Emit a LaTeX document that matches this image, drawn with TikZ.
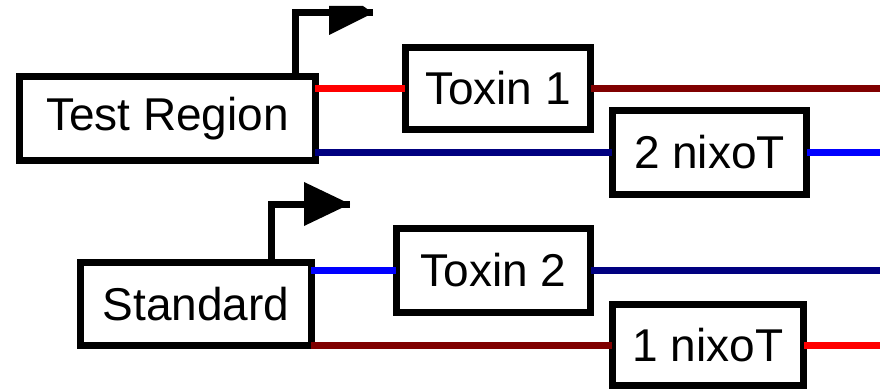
\documentclass[tikz,border=0pt]{standalone}
\usepackage{fontspec}
\setmainfont{Liberation Sans}
\usepackage{tikz}
\definecolor{tred}{RGB}{255, 0, 0}
\definecolor{tmaroon}{RGB}{128, 0, 0}
\definecolor{tnavy}{RGB}{0, 0, 128}
\definecolor{tblue}{RGB}{0, 0, 255}

\begin{document}
\begin{tikzpicture}[x=1pt, y=-1pt,
        gene/.style={draw, rectangle, line width=7pt, inner sep=0pt, minimum height=84pt, font=\fontsize{46}{55}\selectfont},
        wire/.style={line width=7pt}]
        \useasboundingbox (0,0) rectangle (880,390);
        \coordinate (rim) at (880,0);

        % Upper construct
        \node[gene, minimum width=296pt] (test) at (167.5,118.5) {Test Region};
        \node[gene, minimum width=185pt, minimum height=82pt] (tox1) at (498,88.5) {Toxin 1};
        \node[gene, minimum width=194pt] (nix2) at (709.5,152.5) {2 nixoT};
        \draw[wire, tred] ([xshift=-4pt]test.east |- tox1.west) -- ([xshift=3pt]tox1.west);
        \draw[wire, tmaroon] ([xshift=-3pt]tox1.east) -- (tox1.east -| rim);
        \draw[wire, tnavy] ([xshift=-4pt]test.east |- nix2.west) -- ([xshift=3pt]nix2.west);
        \draw[wire, tblue] ([xshift=-3pt]nix2.east) -- (nix2.east -| rim);

        % Lower construct
        \node[gene, minimum width=231pt, minimum height=83pt] (std) at (196,304) {Standard};
        \node[gene, minimum width=194pt] (tox2) at (493.5,270.5) {Toxin 2};
        \node[gene, minimum width=191pt, minimum height=81pt] (nix1) at (708,345) {1 nixoT};
        \draw[wire, tblue] ([xshift=-4pt]std.east |- tox2.west) -- ([xshift=3pt]tox2.west);
        \draw[wire, tnavy] ([xshift=-3pt]tox2.east) -- (tox2.east -| rim);
        \draw[wire, tmaroon] ([xshift=-4pt]std.east |- nix1.west) -- ([xshift=3pt]nix1.west);
        \draw[wire, tred] ([xshift=-3pt]nix1.east) -- (nix1.east -| rim);

        % Promoters
        \coordinate (bend1) at (295,13);
        \coordinate (tip1) at (373,13);
        \draw[wire] ([yshift=-3pt]bend1 |- test.north) -- (bend1) -- (tip1);
        \fill (329,6) -- (363,6) -- (tip1) -- (329,35) -- cycle;
        \coordinate (bend2) at (271,204);
        \coordinate (tip2) at (350,204);
        \draw[wire] ([yshift=-3pt]bend2 |- std.north) -- (bend2) -- (tip2);
        \fill (304,182) -- (tip2) -- (304,226) -- cycle;
    \end{tikzpicture}
\end{document}
